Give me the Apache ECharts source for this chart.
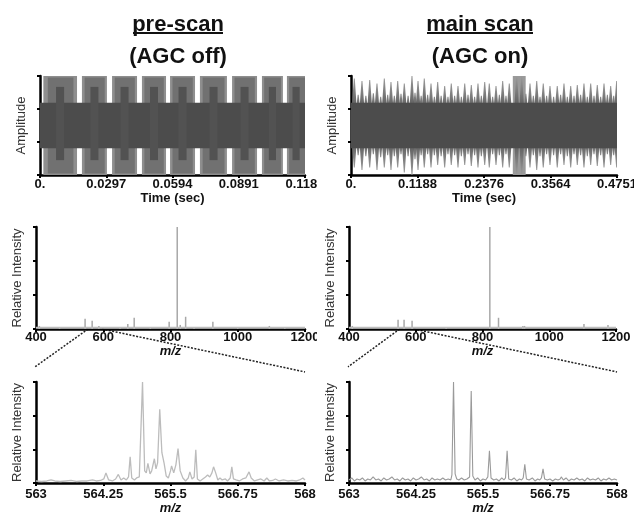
<!DOCTYPE html>
<html><head><meta charset="utf-8">
<script src="https://cdn.jsdelivr.net/npm/echarts@6/dist/echarts.min.js"></script>
<style>
html,body{margin:0;padding:0;background:#fff;width:634px;height:512px;overflow:hidden}
#L,#R{position:absolute;top:0;width:317px;height:512px;overflow:hidden}
#L{left:0}#R{left:317px}
</style></head>
<body><div id="L"></div><div id="R"></div>
<script>
// ---------------- tick labels ----------------
const preTimeTicks = [0, 0.0297, 0.0594, 0.0891, 0.1188];
const preTimeLabels = ['0.', '0.0297', '0.0594', '0.0891', '0.1188'];
const mainTimeTicks = [0, 0.1188, 0.2376, 0.3564, 0.4751];
const mainTimeLabels = ['0.', '0.1188', '0.2376', '0.3564', '0.4751'];
const zoomTicks = [563, 564.25, 565.5, 566.75, 568];
const zoomLabels = ['563', '564.25', '565.5', '566.75', '568'];
const ampTicks = [-1, -0.3333, 0.3333, 1];
const intTicks = [0, 0.3333, 0.6667, 1];

// ---------------- pre-scan transient (envelope) ----------------
const preBlockStart = [0.0015, 0.0188, 0.0323, 0.0457, 0.0583, 0.0717, 0.0861, 0.0995, 0.1107];
const preBlockEnd   = [0.0166, 0.0300, 0.0435, 0.0565, 0.0695, 0.0838, 0.0973, 0.1089, 0.1188];
const preBlockAmp   = [1.0, 1.0, 1.0, 1.0, 1.0, 1.0, 1.0, 1.0, 1.0];
const preInnerStart = [0.0035, 0.0200, 0.0335, 0.0468, 0.0594, 0.0729, 0.0872, 0.1005, 0.1117];
const preInnerEnd   = [0.0150, 0.0290, 0.0425, 0.0555, 0.0685, 0.0827, 0.0963, 0.1080, 0.1188];
const preInnerAmp   = [0.97, 0.97, 0.97, 0.97, 0.97, 0.97, 0.97, 0.97, 0.97];
const preNotchT     = [0.0090, 0.0244, 0.0379, 0.0511, 0.0639, 0.0778, 0.0917, 0.1042, 0.1148];
const preNotchHalfW = [0.0018, 0.0018, 0.0018, 0.0018, 0.0018, 0.0018, 0.0018, 0.0016, 0.0016];
const preNotchTop   = [0.78, 0.78, 0.78, 0.78, 0.78, 0.78, 0.78, 0.78, 0.78];
const preNotchBot   = [0.70, 0.70, 0.70, 0.70, 0.70, 0.70, 0.70, 0.70, 0.70];
const preCoreT      = [0, 0.1188];
const preCoreAmp    = [0.46, 0.46];

// ---------------- main-scan transient ----------------
const mainSpikeT = [0.0059, 0.0196, 0.0334, 0.0464, 0.0595, 0.0714, 0.0834, 0.0952, 0.1089, 0.1197,
  0.1309, 0.1429, 0.1548, 0.1673, 0.1791, 0.1911, 0.2031, 0.2149, 0.2268, 0.2388,
  0.2470, 0.2590, 0.2709, 0.2827, 0.2959, 0.3049, 0.3197, 0.3317, 0.3434, 0.3554,
  0.3684, 0.3804, 0.3924, 0.4042, 0.4161, 0.4281, 0.4399, 0.4519, 0.4638, 0.4745];
const mainSpikeTop = [0.95, 0.90, 0.92, 0.85, 0.95, 0.88, 0.90, 0.85, 1.00, 0.90,
  0.95, 0.85, 0.88, 0.80, 0.85, 0.80, 0.85, 0.82, 0.85, 0.88,
  0.85, 0.80, 0.90, 0.85, 1.00, 1.00, 0.85, 0.90, 0.85, 0.80,
  0.80, 0.85, 0.80, 0.82, 0.85, 0.85, 0.82, 0.85, 0.80, 0.90];
const mainSpikeBot = [0.85, 0.90, 0.85, 0.90, 0.85, 0.90, 0.85, 0.95, 1.00, 0.90,
  0.85, 0.85, 0.80, 0.85, 0.80, 0.85, 0.80, 0.82, 0.85, 0.80,
  0.85, 0.80, 0.85, 0.85, 1.00, 1.00, 0.85, 0.90, 0.85, 0.80,
  0.85, 0.80, 0.85, 0.80, 0.85, 0.80, 0.82, 0.85, 0.80, 0.85];
const mainMinorT = [0.0128, 0.0265, 0.0399, 0.0530, 0.0655, 0.0774, 0.0893, 0.1020, 0.1143, 0.1253,
  0.1369, 0.1489, 0.1610, 0.1732, 0.1851, 0.1971, 0.2090, 0.2208, 0.2328, 0.2530,
  0.2650, 0.2768, 0.3123, 0.3257, 0.3376, 0.3494, 0.3619, 0.3744, 0.3864, 0.3983,
  0.4101, 0.4221, 0.4340, 0.4459, 0.4579, 0.4692];
const mainMinorTop = [0.62, 0.60, 0.65, 0.58, 0.62, 0.60, 0.64, 0.60, 0.66, 0.60,
  0.62, 0.58, 0.60, 0.58, 0.60, 0.58, 0.62, 0.58, 0.60, 0.58,
  0.62, 0.60, 0.64, 0.60, 0.58, 0.60, 0.58, 0.62, 0.58, 0.60,
  0.62, 0.58, 0.60, 0.58, 0.62, 0.60];
const mainMinorBot = [0.60, 0.62, 0.58, 0.64, 0.60, 0.62, 0.58, 0.62, 0.68, 0.60,
  0.58, 0.60, 0.62, 0.58, 0.60, 0.62, 0.58, 0.60, 0.62, 0.58,
  0.60, 0.58, 0.62, 0.60, 0.62, 0.58, 0.60, 0.58, 0.62, 0.58,
  0.60, 0.62, 0.58, 0.60, 0.58, 0.60];
const mainBurstStart = [0.289];
const mainBurstEnd   = [0.312];
const mainBurstAmp   = [1.0];
const mainCoreT   = [0, 0.4751];
const mainCoreAmp = [0.46, 0.46];

// ---------------- full mass spectra ----------------
const preSpecMz  = [410, 470, 546, 567, 587, 650, 673, 692, 740, 796, 820, 829, 845, 870, 926, 1000, 1094, 1140];
const preSpecInt = [0.03, 0.015, 0.10, 0.08, 0.03, 0.02, 0.05, 0.11, 0.015, 0.07, 1.0, 0.04, 0.12, 0.02, 0.07, 0.02, 0.03, 0.02];
const mainSpecMz  = [410, 547, 565, 589, 691, 822, 848, 921, 926, 1104, 1176];
const mainSpecInt = [0.03, 0.09, 0.09, 0.08, 0.02, 1.0, 0.11, 0.03, 0.03, 0.05, 0.04];
const specBaseMz  = [400, 1200];
const specBaseInt = [0.012, 0.012];

// ---------------- zoomed spectra 563-568 ----------------
const preZoomMz = [563.00,563.10,563.20,563.28,563.35,563.45,563.55,563.65,563.75,563.85,563.95,564.05,564.12,564.20,564.26,564.30,564.35,564.42,564.48,564.53,564.58,564.63,564.68,564.72,564.75,564.78,564.83,564.87,564.92,564.98,565.02,565.05,565.08,565.12,565.15,565.20,565.23,565.26,565.30,565.34,565.38,565.42,565.46,565.50,565.52,565.56,565.60,565.64,565.68,565.73,565.78,565.83,565.86,565.90,565.94,565.97,566.00,566.05,566.10,566.15,566.19,566.23,566.27,566.30,566.34,566.38,566.42,566.46,566.52,566.56,566.61,566.64,566.67,566.72,566.78,566.84,566.90,566.96,567.00,567.06,567.12,567.18,567.24,567.29,567.34,567.40,567.45,567.52,567.60,567.68,567.76,567.84,567.90,567.96,568.00];
const preZoomInt = [0.02,0.015,0.02,0.03,0.02,0.015,0.02,0.025,0.015,0.02,0.02,0.03,0.02,0.025,0.04,0.10,0.03,0.02,0.04,0.085,0.03,0.05,0.03,0.06,0.26,0.05,0.03,0.05,0.06,1.00,0.12,0.10,0.195,0.09,0.12,0.24,0.14,0.20,0.73,0.30,0.20,0.07,0.05,0.12,0.17,0.10,0.18,0.34,0.12,0.05,0.02,0.05,0.11,0.04,0.06,0.33,0.04,0.02,0.04,0.06,0.08,0.06,0.10,0.16,0.10,0.03,0.05,0.03,0.04,0.02,0.05,0.16,0.04,0.03,0.02,0.04,0.05,0.11,0.05,0.02,0.03,0.04,0.02,0.05,0.02,0.025,0.04,0.02,0.03,0.02,0.025,0.02,0.03,0.05,0.03];
const mainZoomMz = [563.00,563.05,563.10,563.15,563.20,563.25,563.30,563.35,563.40,563.45,563.50,563.55,563.60,563.65,563.70,563.75,563.80,563.85,563.90,563.95,564.00,564.05,564.10,564.15,564.20,564.25,564.30,564.35,564.40,564.45,564.50,564.55,564.60,564.65,564.70,564.75,564.80,564.85,564.90,564.92,564.95,564.98,565.01,565.05,565.10,565.15,565.20,565.25,565.28,565.31,565.35,565.40,565.45,565.50,565.55,565.59,565.62,565.65,565.70,565.75,565.80,565.85,565.89,565.92,565.95,565.98,566.03,566.08,566.13,566.18,566.22,566.25,566.28,566.31,566.36,566.42,566.47,566.52,566.56,566.59,566.62,566.65,566.70,566.75,566.80,566.85,566.90,566.94,566.96,567.00,567.05,567.10,567.15,567.20,567.25,567.30,567.35,567.40,567.45,567.50,567.55,567.60,567.65,567.70,567.75,567.80,567.85,567.90,567.95,568.00];
const mainZoomInt = [0.03,0.05,0.02,0.04,0.03,0.05,0.02,0.04,0.03,0.06,0.03,0.04,0.02,0.05,0.03,0.04,0.06,0.03,0.04,0.02,0.05,0.03,0.04,0.02,0.05,0.03,0.04,0.06,0.03,0.04,0.02,0.05,0.03,0.04,0.03,0.05,0.03,0.04,0.03,0.08,1.00,0.09,0.04,0.03,0.05,0.03,0.04,0.06,0.91,0.07,0.03,0.05,0.02,0.04,0.03,0.06,0.32,0.05,0.03,0.04,0.02,0.05,0.03,0.05,0.32,0.04,0.03,0.05,0.02,0.04,0.03,0.05,0.185,0.04,0.03,0.05,0.02,0.04,0.03,0.05,0.14,0.04,0.03,0.04,0.02,0.04,0.03,0.04,0.06,0.03,0.05,0.02,0.04,0.03,0.05,0.03,0.04,0.02,0.05,0.03,0.04,0.03,0.05,0.02,0.04,0.03,0.05,0.03,0.04,0.03];

// ---------------- helpers ----------------
const FONT = '"Liberation Sans", Arial, Helvetica, sans-serif';
function zip(a, b) { return a.map((v, i) => [v, b[i]]); }
function labelFmt(ticks, labels) {
  return function (v) {
    for (let i = 0; i < ticks.length; i++) if (Math.abs(v - ticks[i]) < 1e-6) return labels[i];
    return '';
  };
}
function xAx(idx, min, max, name, italic, margin, ticks, labels, interval) {
  const a = {
    type: 'value', gridIndex: idx, min: min, max: max,
    name: name, nameLocation: 'middle', nameGap: italic ? 12 : 13,
    nameTextStyle: { fontFamily: FONT, fontSize: 13, fontWeight: 'bold', fontStyle: italic ? 'italic' : 'normal', color: '#111' },
    axisLine: { onZero: false, lineStyle: { color: '#000', width: 2.5 } },
    axisTick: { show: true, length: 3, lineStyle: { color: '#000', width: 2 } },
    axisLabel: { margin: margin, fontFamily: FONT, fontSize: 13, fontWeight: 'bold', color: '#111' },
    splitLine: { show: false }
  };
  if (ticks) {
    a.axisTick.customValues = ticks;
    a.axisLabel.customValues = ticks;
    a.axisLabel.formatter = labelFmt(ticks, labels);
  } else {
    a.interval = interval;
    a.axisLabel.formatter = function (v) { return String(v); };
  }
  return a;
}
function yAx(idx, min, max, name, ticks) {
  return {
    type: 'value', gridIndex: idx, min: min, max: max,
    name: name, nameLocation: 'middle', nameGap: 12,
    nameTextStyle: { fontFamily: FONT, fontSize: 13, color: '#333' },
    axisLine: { onZero: false, lineStyle: { color: '#000', width: 2.5 } },
    axisTick: { show: true, length: 3, customValues: ticks, lineStyle: { color: '#000', width: 2 } },
    axisLabel: { show: false },
    splitLine: { show: false }
  };
}
function bandSeries(xi, data, color) {
  return {
    type: 'custom', xAxisIndex: xi, yAxisIndex: xi, clip: true, silent: true,
    data: data,
    renderItem: function (params, api) {
      const a = api.coord([api.value(0), api.value(2)]);
      const b = api.coord([api.value(1), -api.value(3)]);
      return { type: 'rect', shape: { x: a[0], y: a[1], width: b[0] - a[0], height: b[1] - a[1] }, style: { fill: color } };
    }
  };
}
function spikeSeries(xi, data, baseColor, tipColor, hw) {
  return {
    type: 'custom', xAxisIndex: xi, yAxisIndex: xi, clip: true, silent: true,
    data: data,
    renderItem: function (params, api) {
      const t = api.value(0);
      const p0 = api.coord([t, 0.3]), p1 = api.coord([t, api.value(1)]);
      const q0 = api.coord([t, -0.3]), q1 = api.coord([t, -api.value(2)]);
      const tw = 0.5;
      const gUp = new echarts.graphic.LinearGradient(0, 1, 0, 0, [{ offset: 0, color: baseColor }, { offset: 1, color: tipColor }]);
      const gDn = new echarts.graphic.LinearGradient(0, 0, 0, 1, [{ offset: 0, color: baseColor }, { offset: 1, color: tipColor }]);
      return { type: 'group', children: [
        { type: 'polygon', shape: { points: [[p0[0] - hw, p0[1]], [p1[0] - tw, p1[1]], [p1[0] + tw, p1[1]], [p0[0] + hw, p0[1]]] }, style: { fill: gUp } },
        { type: 'polygon', shape: { points: [[q0[0] - hw, q0[1]], [q1[0] - tw, q1[1]], [q1[0] + tw, q1[1]], [q0[0] + hw, q0[1]]] }, style: { fill: gDn } }
      ] };
    }
  };
}
function gridOf(g) { return Object.assign({ containLabel: false, outerBoundsMode: 'none', show: false }, g); }

// ---------------- left chart: pre-scan ----------------
const L = echarts.init(document.getElementById('L'), null, { renderer: 'canvas' });
L.setOption({
  animation: false,
  grid: [gridOf({ left: 40, top: 76, width: 265, height: 99 }),
         gridOf({ left: 36, top: 227, width: 269, height: 102 }),
         gridOf({ left: 36, top: 382, width: 269, height: 101 })],
  xAxis: [xAx(0, 0, 0.1188, 'Time (sec)', false, 3, preTimeTicks, preTimeLabels),
          xAx(1, 400, 1200, 'm/z', true, 2, null, null, 200),
          xAx(2, 563, 568, 'm/z', true, 5, zoomTicks, zoomLabels)],
  yAxis: [yAx(0, -1, 1, 'Amplitude', ampTicks),
          yAx(1, 0, 1, 'Relative Intensity', intTicks),
          yAx(2, 0, 1, 'Relative Intensity', intTicks)],
  series: [
    bandSeries(0, preBlockStart.map((s, i) => [s, preBlockEnd[i], preBlockAmp[i], preBlockAmp[i]]), '#8e8e8e'),
    bandSeries(0, preInnerStart.map((s, i) => [s, preInnerEnd[i], preInnerAmp[i], preInnerAmp[i]]), '#717171'),
    bandSeries(0, [[preCoreT[0], preCoreT[1], preCoreAmp[0], preCoreAmp[1]]], '#4c4c4c'),
    bandSeries(0, preNotchT.map((t, i) => [t - preNotchHalfW[i], t + preNotchHalfW[i], preNotchTop[i], preNotchBot[i]]), '#525252'),
    { type: 'line', xAxisIndex: 1, yAxisIndex: 1, data: zip(specBaseMz, specBaseInt), showSymbol: false, silent: true,
      lineStyle: { color: '#bdbdbd', width: 2 } },
    { type: 'bar', xAxisIndex: 1, yAxisIndex: 1, data: zip(preSpecMz, preSpecInt), barWidth: 1.5, silent: true,
      itemStyle: { color: '#a8a8a8' } },
    { type: 'line', xAxisIndex: 2, yAxisIndex: 2, data: zip(preZoomMz, preZoomInt), showSymbol: false, silent: true,
      lineStyle: { color: '#bcbcbc', width: 1.3 } }
  ]
});

// ---------------- right chart: main scan ----------------
const R = echarts.init(document.getElementById('R'), null, { renderer: 'canvas' });
R.setOption({
  animation: false,
  grid: [gridOf({ left: 34, top: 76, width: 266, height: 99 }),
         gridOf({ left: 32, top: 227, width: 267, height: 102 }),
         gridOf({ left: 32, top: 382, width: 268, height: 101 })],
  xAxis: [xAx(0, 0, 0.4751, 'Time (sec)', false, 3, mainTimeTicks, mainTimeLabels),
          xAx(1, 400, 1200, 'm/z', true, 2, null, null, 200),
          xAx(2, 563, 568, 'm/z', true, 5, zoomTicks, zoomLabels)],
  yAxis: [yAx(0, -1, 1, 'Amplitude', ampTicks),
          yAx(1, 0, 1, 'Relative Intensity', intTicks),
          yAx(2, 0, 1, 'Relative Intensity', intTicks)],
  series: [
    bandSeries(0, mainBurstStart.map((s, i) => [s, mainBurstEnd[i], mainBurstAmp[i], mainBurstAmp[i]]), '#9a9a9a'),
    spikeSeries(0, mainMinorT.map((t, i) => [t, mainMinorTop[i], mainMinorBot[i]]), '#555555', '#8a8a8a', 2.2),
    spikeSeries(0, mainSpikeT.map((t, i) => [t, mainSpikeTop[i], mainSpikeBot[i]]), '#555555', '#9a9a9a', 2.6),
    bandSeries(0, [[mainCoreT[0], mainCoreT[1], mainCoreAmp[0], mainCoreAmp[1]]], '#4c4c4c'),
    { type: 'line', xAxisIndex: 1, yAxisIndex: 1, data: zip(specBaseMz, specBaseInt), showSymbol: false, silent: true,
      lineStyle: { color: '#bdbdbd', width: 2 } },
    { type: 'bar', xAxisIndex: 1, yAxisIndex: 1, data: zip(mainSpecMz, mainSpecInt), barWidth: 1.5, silent: true,
      itemStyle: { color: '#a8a8a8' } },
    { type: 'line', xAxisIndex: 2, yAxisIndex: 2, data: zip(mainZoomMz, mainZoomInt), showSymbol: false, silent: true,
      lineStyle: { color: '#9a9a9a', width: 1.1 } }
  ]
});

// ---------------- titles, underlines, zoom connectors ----------------
function decorate(chart, cx, title, sub, ulHalf, mzA, mzB) {
  const a0 = chart.convertToPixel({ xAxisIndex: 1 }, mzA);
  const b0 = chart.convertToPixel({ xAxisIndex: 1 }, mzB);
  const y0 = chart.convertToPixel({ yAxisIndex: 1 }, 0);
  const lx = chart.convertToPixel({ xAxisIndex: 2 }, 563);
  const rx = chart.convertToPixel({ xAxisIndex: 2 }, 568);
  const ly = chart.convertToPixel({ yAxisIndex: 2 }, 1.15);
  const ry = chart.convertToPixel({ yAxisIndex: 2 }, 1.10);
  const dot = { stroke: '#222', lineWidth: 1.5, lineDash: [2, 1.5] };
  chart.setOption({
    graphic: [
      { type: 'text', x: cx, y: 25, style: { text: title, font: 'bold 22px ' + FONT, fill: '#111', align: 'center', verticalAlign: 'middle' } },
      { type: 'line', shape: { x1: cx - ulHalf, y1: 33, x2: cx + ulHalf, y2: 33 }, style: { stroke: '#111', lineWidth: 2 } },
      { type: 'text', x: cx, y: 57, style: { text: sub, font: 'bold 22px ' + FONT, fill: '#111', align: 'center', verticalAlign: 'middle' } },
      { type: 'line', shape: { x1: a0, y1: y0, x2: lx - 1, y2: ly }, style: dot },
      { type: 'line', shape: { x1: b0, y1: y0, x2: rx, y2: ry }, style: dot }
    ]
  });
}
decorate(L, 178, 'pre-scan', '(AGC off)', 45, 555, 596);
decorate(R, 163, 'main scan', '(AGC on)', 53, 552, 594);
</script></body></html>
